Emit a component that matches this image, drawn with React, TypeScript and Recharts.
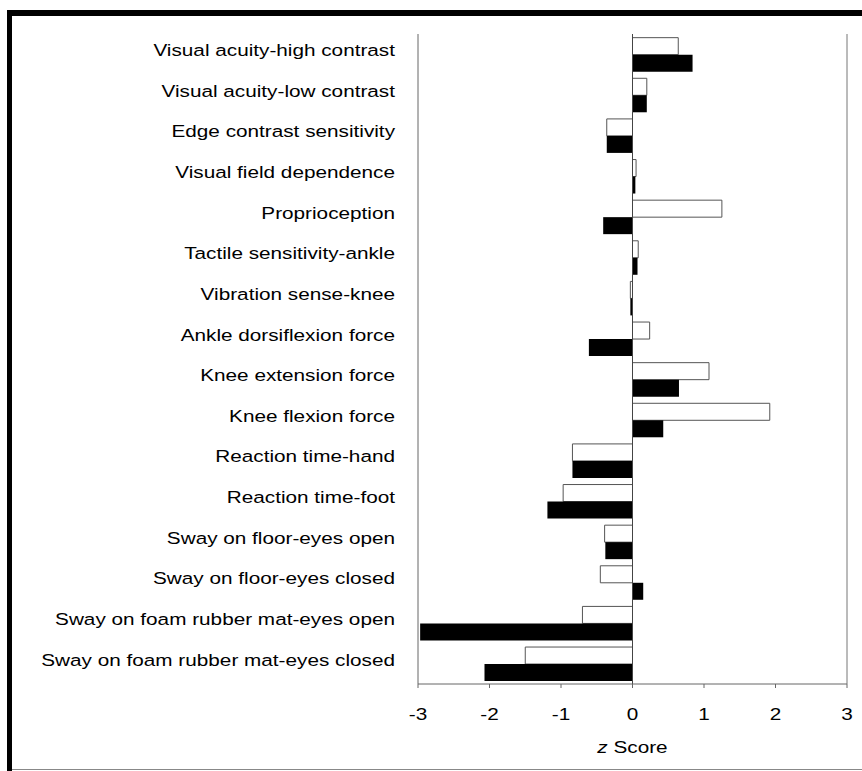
import { BarChart, Bar, XAxis, YAxis, ReferenceLine } from 'recharts';

const measures = [
  'Visual acuity-high contrast',
  'Visual acuity-low contrast',
  'Edge contrast sensitivity',
  'Visual field dependence',
  'Proprioception',
  'Tactile sensitivity-ankle',
  'Vibration sense-knee',
  'Ankle dorsiflexion force',
  'Knee extension force',
  'Knee flexion force',
  'Reaction time-hand',
  'Reaction time-foot',
  'Sway on floor-eyes open',
  'Sway on floor-eyes closed',
  'Sway on foam rubber mat-eyes open',
  'Sway on foam rubber mat-eyes closed',
];

const openBars = [0.64, 0.2, -0.36, 0.05, 1.25, 0.08, -0.03, 0.24, 1.07, 1.92, -0.84, -0.97, -0.39, -0.45, -0.7, -1.5];
const solidBars = [0.84, 0.2, -0.36, 0.04, -0.41, 0.07, -0.03, -0.61, 0.65, 0.43, -0.84, -1.19, -0.38, 0.15, -2.97, -2.07];

const xTicks = [-3, -2, -1, 0, 1, 2, 3];

const data = measures.map((name, i) => ({ name, open: openBars[i], solid: solidBars[i] }));

const FONT = '"Liberation Sans", Arial, Helvetica, sans-serif';
const SX = 1.22;

const NameTick = (props: any) => {
  const { y, payload } = props;
  return (
    <g transform={`translate(395,${y - 4}) scale(${SX},1)`}>
      <text x={0} y={0} textAnchor="end" dominantBaseline="central" fontSize={17} fontFamily={FONT} fill="#000">
        {payload.value}
      </text>
    </g>
  );
};

const NumTick = (props: any) => {
  const { x, y, payload } = props;
  return (
    <g transform={`translate(${x},${y + 24}) scale(${SX},1)`}>
      <text x={0} y={0} textAnchor="middle" dominantBaseline="central" fontSize={17} fontFamily={FONT} fill="#000">
        {payload.value}
      </text>
    </g>
  );
};

const ZLabel = (props: any) => {
  const { x, y, width } = props.viewBox;
  return (
    <g transform={`translate(${x + width / 2},${y + 63}) scale(${SX},1)`}>
      <text x={0} y={0} textAnchor="middle" dominantBaseline="central" fontSize={17} fontFamily={FONT} fill="#000">
        <tspan fontStyle="italic">z</tspan> Score
      </text>
    </g>
  );
};

export default function App() {
  return (
    <div style={{ position: 'absolute', left: 0, top: 0, width: 862, height: 771, background: '#fff' }}>
      <div style={{ position: 'absolute', left: 7, top: 10, width: 855, height: 6, background: '#000' }} />
      <div style={{ position: 'absolute', left: 7, top: 10, width: 5, height: 761, background: '#000' }} />
      <div style={{ position: 'absolute', left: 12, top: 769, width: 850, height: 1, background: '#888' }} />
      <BarChart
        width={862}
        height={771}
        data={data}
        layout="vertical"
        margin={{ top: 34, right: 15, bottom: 27, left: 0 }}
        barCategoryGap="9%"
        barGap={0}
      >
        <XAxis
          type="number"
          domain={[-3, 3]}
          ticks={xTicks}
          height={60}
          stroke="#666"
          tickSize={4}
          tick={<NumTick />}
          label={<ZLabel />}
        />
        <YAxis
          type="category"
          dataKey="name"
          width={418}
          stroke="#666"
          tickLine={false}
          tick={<NameTick />}
          interval={0}
        />
        <ReferenceLine x={3} stroke="#777" />
        <Bar dataKey="open" fill="#fff" stroke="#555" strokeWidth={1} isAnimationActive={false} />
        <Bar dataKey="solid" fill="#000" isAnimationActive={false} />
        <ReferenceLine x={0} stroke="#444" />
      </BarChart>
    </div>
  );
}
